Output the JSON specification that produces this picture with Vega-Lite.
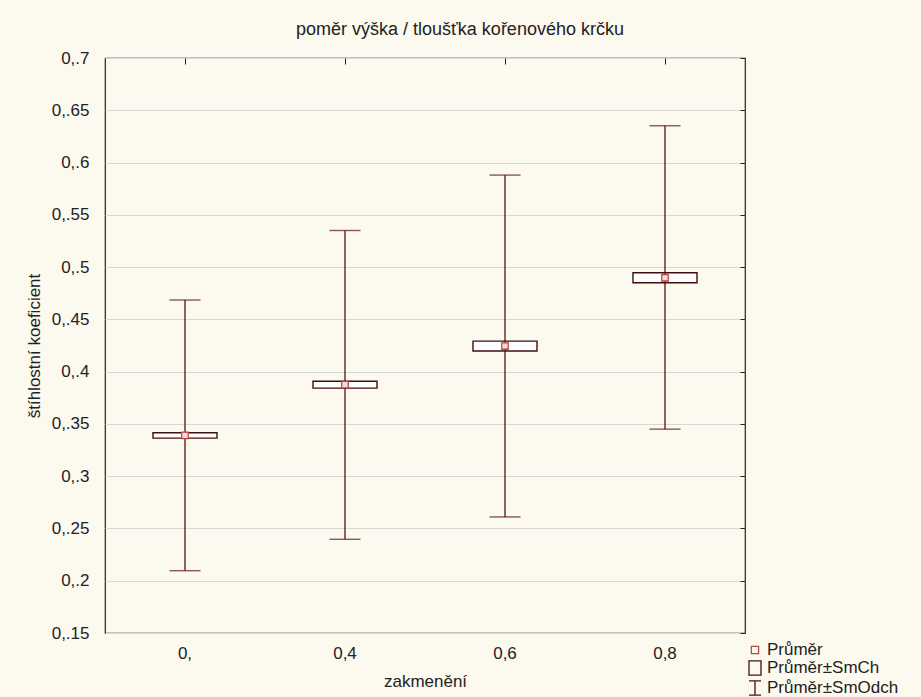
{
  "$schema": "https://vega.github.io/schema/vega-lite/v6.json",
  "width": 640,
  "height": 575,
  "autosize": {"type": "none"},
  "padding": {"left": 105, "top": 58, "right": 176, "bottom": 64},
  "background": "#FCF9EF",
  "title": {"text": "poměr výška / tloušťka kořenového krčku", "fontSize": 18, "fontWeight": "normal", "font": "Liberation Sans", "color": "#222", "offset": 10, "anchor": "middle", "dx": 35},
  "config": {
    "view": {"fill": "white", "stroke": "#222", "strokeWidth": 1.2},
    "axis": {"labelFont": "Liberation Sans", "titleFont": "Liberation Sans", "labelFontSize": 17, "titleFontSize": 17, "titleFontWeight": "normal", "labelColor": "#222", "titleColor": "#222", "domain": false, "tickColor": "#222", "gridColor": "#d8d8d8"},
    "legend": {"labelFont": "Liberation Sans"}
  },
  "datasets": {
    "stats": [
      {"z": "0,", "mean": 0.339, "se_lo": 0.3364, "se_hi": 0.3416, "sd_lo": 0.2096, "sd_hi": 0.4685},
      {"z": "0,4", "mean": 0.3875, "se_lo": 0.3842, "se_hi": 0.3908, "sd_lo": 0.2396, "sd_hi": 0.535},
      {"z": "0,6", "mean": 0.4245, "se_lo": 0.4198, "se_hi": 0.4292, "sd_lo": 0.261, "sd_hi": 0.588},
      {"z": "0,8", "mean": 0.4898, "se_lo": 0.485, "se_hi": 0.4946, "sd_lo": 0.345, "sd_hi": 0.6352}
    ],
    "leg": [
      {"leg": "Průměr"},
      {"leg": "Průměr±SmCh"},
      {"leg": "Průměr±SmOdch"}
    ]
  },
  "resolve": {"axis": {"x": "independent", "y": "independent"}},
  "layer": [
    {
      "data": {"name": "stats"},
      "mark": {"type": "rule", "color": "#5a1212", "strokeWidth": 1.3},
      "encoding": {
        "x": {"field": "z", "type": "ordinal", "sort": null, "scale": {"paddingInner": 0, "paddingOuter": 0},
              "axis": {"orient": "bottom", "title": "zakmenění", "labelAngle": 0, "ticks": false, "labelPadding": 12, "titlePadding": 12}},
        "y": {"field": "sd_lo", "type": "quantitative", "scale": {"domain": [0.15, 0.7], "nice": false, "zero": false},
              "axis": {"orient": "left", "title": "štíhlostní koeficient", "values": [0.15, 0.2, 0.25, 0.3, 0.35, 0.4, 0.45, 0.5, 0.55, 0.6, 0.65, 0.7], "labelExpr": "'0,' + substring(format(datum.value, '.2~f'), 1)", "tickSize": 0, "labelPadding": 16, "grid": true, "titlePadding": 8}},
        "y2": {"field": "sd_hi"}
      }
    },
    {
      "data": {"name": "stats"},
      "mark": {"type": "tick", "color": "#5a1212", "size": 31, "thickness": 1.4},
      "encoding": {
        "x": {"field": "z", "type": "ordinal", "sort": null, "axis": null},
        "y": {"field": "sd_lo", "type": "quantitative", "axis": null}
      }
    },
    {
      "data": {"name": "stats"},
      "mark": {"type": "tick", "color": "#5a1212", "size": 31, "thickness": 1.4},
      "encoding": {
        "x": {"field": "z", "type": "ordinal", "sort": null, "axis": null},
        "y": {"field": "sd_hi", "type": "quantitative", "axis": null}
      }
    },
    {
      "data": {"name": "stats"},
      "mark": {"type": "bar", "width": 64, "fill": "white", "stroke": "#3f0f0f", "strokeWidth": 1.4},
      "encoding": {
        "x": {"field": "z", "type": "ordinal", "sort": null, "axis": {"orient": "top", "labels": false, "title": null, "tickSize": -6, "ticks": true}},
        "y": {"field": "se_lo", "type": "quantitative", "axis": {"orient": "right", "labels": false, "title": null, "grid": false, "tickSize": -5, "values": [0.15, 0.2, 0.25, 0.3, 0.35, 0.4, 0.45, 0.5, 0.55, 0.6, 0.65, 0.7]}},
        "y2": {"field": "se_hi"}
      }
    },
    {
      "data": {"name": "stats"},
      "mark": {"type": "rule", "color": "#5a1212", "strokeWidth": 1.3},
      "encoding": {
        "x": {"field": "z", "type": "ordinal", "sort": null, "axis": null},
        "y": {"field": "se_lo", "type": "quantitative", "axis": null},
        "y2": {"field": "se_hi"}
      }
    },
    {
      "data": {"name": "stats"},
      "mark": {"type": "point", "shape": "square", "size": 42, "filled": true, "fill": "#f4dcdc", "stroke": "#b84848", "strokeWidth": 1.3, "opacity": 1},
      "encoding": {
        "x": {"field": "z", "type": "ordinal", "sort": null, "axis": null},
        "y": {"field": "mean", "type": "quantitative", "axis": null}
      }
    },
    {
      "data": {"name": "leg"},
      "mark": {"type": "point", "opacity": 0, "filled": false, "strokeWidth": 1.3},
      "encoding": {
        "shape": {"field": "leg", "type": "nominal", "sort": null,
                  "scale": {"domain": ["Průměr", "Průměr±SmCh", "Průměr±SmOdch"], "range": ["M-0.45,-0.45H0.45V0.45H-0.45Z", "M-0.75,-0.9H0.75V0.9H-0.75Z", "M-0.75,-0.9H0.75M0,-0.9V0.9M-0.75,0.9H0.75"]},
                  "legend": {"orient": "none", "legendX": 641, "legendY": 583, "title": null, "labelFontSize": 17, "labelColor": "#222", "symbolSize": 256, "symbolOpacity": 1, "symbolStrokeWidth": 1.3, "rowPadding": 0, "labelOffset": 3}},
        "color": {"field": "leg", "type": "nominal", "sort": null,
                  "scale": {"domain": ["Průměr", "Průměr±SmCh", "Průměr±SmOdch"], "range": ["#b84848", "#4a1010", "#4a1010"]}}
      }
    }
  ]
}
